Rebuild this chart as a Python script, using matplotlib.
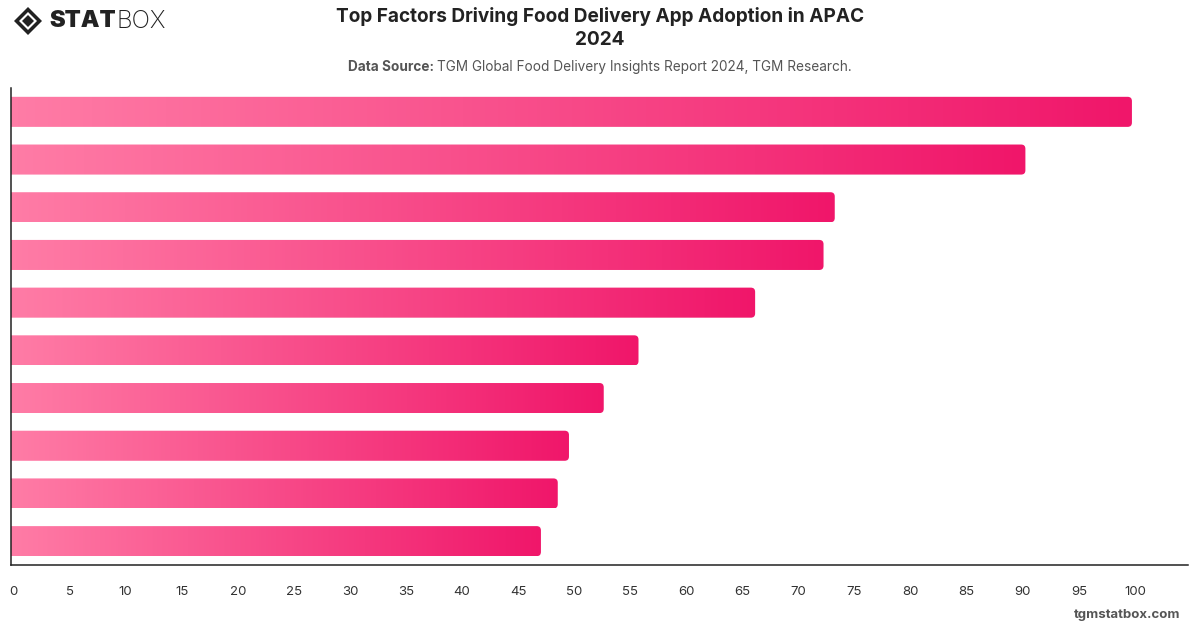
"""
Top factors driving food delivery app adoption in APAC, 2024 (StatBox style).
Horizontal bars with a left-to-right pink gradient; category labels hidden.
"""
import matplotlib
matplotlib.use("Agg")
import matplotlib.pyplot as plt
import matplotlib.transforms as mtransforms
import numpy as np
from matplotlib.colors import LinearSegmentedColormap
from matplotlib.lines import Line2D
from matplotlib.patches import FancyBboxPatch

plt.rcParams["font.family"] = ["Inter", "DejaVu Sans"]

# factor labels are not printed in the source chart
factors = [f"Factor {i}" for i in range(1, 11)]
shares = [100, 90.5, 73.5, 72.5, 66.4, 56.0, 52.9, 49.8, 48.8, 47.3]
ticks = list(range(0, 101, 5))

title = "Top Factors Driving Food Delivery App Adoption in APAC\n2024"
source = "TGM Global Food Delivery Insights Report 2024, TGM Research."

W, H = 1200, 628
fig = plt.figure(figsize=(W / 100, H / 100), dpi=100)
ax = fig.add_axes([10.5 / W, 1 - 565 / H, (1188 - 10.5) / W, (565 - 88) / H])

xmax, n = 105, len(shares)
bar_h = 0.63

# pixel scale for rounding aspect
px_x = (1188 - 10.5) / xmax
px_y = (565 - 88) / n
aspect = px_x / px_y

cmap = LinearSegmentedColormap.from_list("pink", ["#ff7ca6", "#f0166a"])
grad = np.linspace(0, 1, 256).reshape(1, -1)

for i, v in enumerate(shares):
    patch = FancyBboxPatch((-1, i - bar_h / 2), v + 1, bar_h,
                           boxstyle="round,pad=0,rounding_size=0.38",
                           mutation_aspect=aspect, fc="none", ec="none")
    ax.add_patch(patch)
    im = ax.imshow(grad, cmap=cmap, aspect="auto", interpolation="bicubic",
                   extent=[0, v, i + bar_h / 2, i - bar_h / 2], zorder=2)
    im.set_clip_path(patch)

ax.set_xlim(0, xmax)
ax.set_ylim(n - 0.5, -0.5)
ax.set_yticks([])
ax.set_xticks(ticks)
ax.tick_params(axis="x", length=0, pad=15, labelsize=9.5, labelcolor="#333333")
nudge = mtransforms.ScaledTranslation(3 / 100, 0, fig.dpi_scale_trans)
for lbl in ax.get_xticklabels():
    lbl.set_transform(lbl.get_transform() + nudge)
for s in ("top", "right"):
    ax.spines[s].set_visible(False)
for s in ("left", "bottom"):
    ax.spines[s].set_color("#222222")
    ax.spines[s].set_linewidth(1.1)
    ax.spines[s].set_zorder(3)

# header
fig.text(0.5, 1 - 28 / H, title, ha="center", va="center", fontsize=13.7,
         fontweight="bold", color="#222222", linespacing=1.3)
s1 = fig.text(0.5, 1 - 67 / H, "Data Source: ", ha="right", va="center",
              fontsize=9.8, fontweight="bold", color="#555555")
s2 = fig.text(0.5, 1 - 67 / H, source, ha="left", va="center",
              fontsize=9.8, color="#555555")
fig.canvas.draw()
r = fig.canvas.get_renderer()
shift = (s1.get_window_extent(r).width - s2.get_window_extent(r).width) / 2 / W
s1.set_x(0.5 + shift)
s2.set_x(0.5 + shift)

# logo: outlined diamond with a solid core, then STAT (heavy) + BOX (light)
ly = 1 - 21 / H
for size, col in ((14, "#222222"), (9.5, "white"), (6, "#222222")):
    fig.add_artist(Line2D([28 / W], [ly], marker="D", markersize=size,
                          color=col, markeredgewidth=0,
                          transform=fig.transFigure))
stat = fig.text(49 / W, ly, "STAT", ha="left", va="center", fontsize=17,
                fontweight="black", color="#222222")
fig.canvas.draw()
x_end = stat.get_window_extent(r).x1
fig.text((x_end + 1) / W, ly, "BOX", ha="left", va="center", fontsize=17.5,
         fontweight="light", color="#222222")

fig.text(1180 / W, 1 - 615 / H, "tgmstatbox.com", ha="right", va="center",
         fontsize=9.5, fontweight="bold", color="#555555")

fig.savefig("out.png", dpi=100)
